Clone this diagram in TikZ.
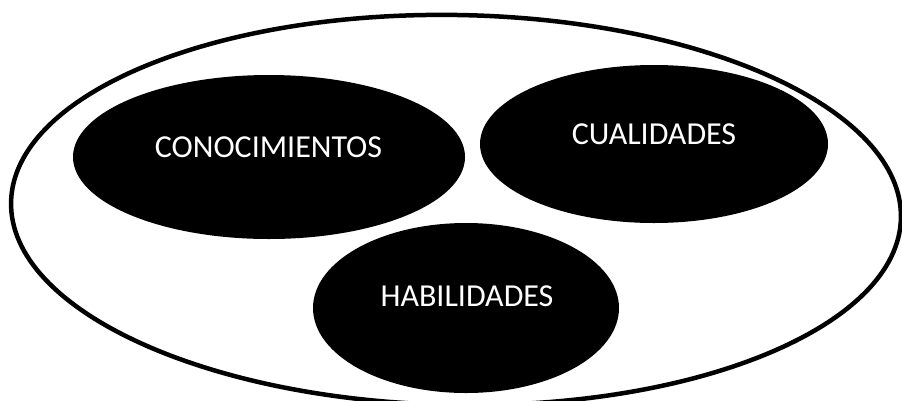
\documentclass[tikz,border=0pt]{standalone}
\usepackage{fontspec}
\setmainfont{Carlito}
\usetikzlibrary{shapes.geometric}
\tikzset{
  blob/.style={ellipse, fill=black, draw=none, inner sep=0pt, outer sep=0pt},
  lbl/.style={text=white, font=\fontsize{32}{36}\selectfont, anchor=base, inner sep=0pt},
  outer/.style={draw=black, line width=4.5pt, fill=white}
}
\begin{document}
\begin{tikzpicture}[x=1pt, y=-1pt]
\useasboundingbox (0,0) rectangle (902,400);
\clip (0,0) rectangle (902,400);
\fill[white] (0,0) rectangle (902,400);
\node[ellipse, outer, minimum width=890pt, minimum height=390pt, inner sep=0pt, rotate=-1] (all) at (456,210) {};
\node[blob, minimum width=392pt, minimum height=164pt] (con) at (269,157) {};
\node[blob, minimum width=348pt, minimum height=158pt] (cua) at (654,144) {};
\node[blob, minimum width=306pt, minimum height=170pt] (hab) at (466,308) {};
\node[lbl] (tcon) at (268.5,157) {CONOCIMIENTOS};
\node[lbl] (tcua) at (654,144) {CUALIDADES};
\node[lbl] (thab) at (467,306) {HABILIDADES};
\end{tikzpicture}
\end{document}
